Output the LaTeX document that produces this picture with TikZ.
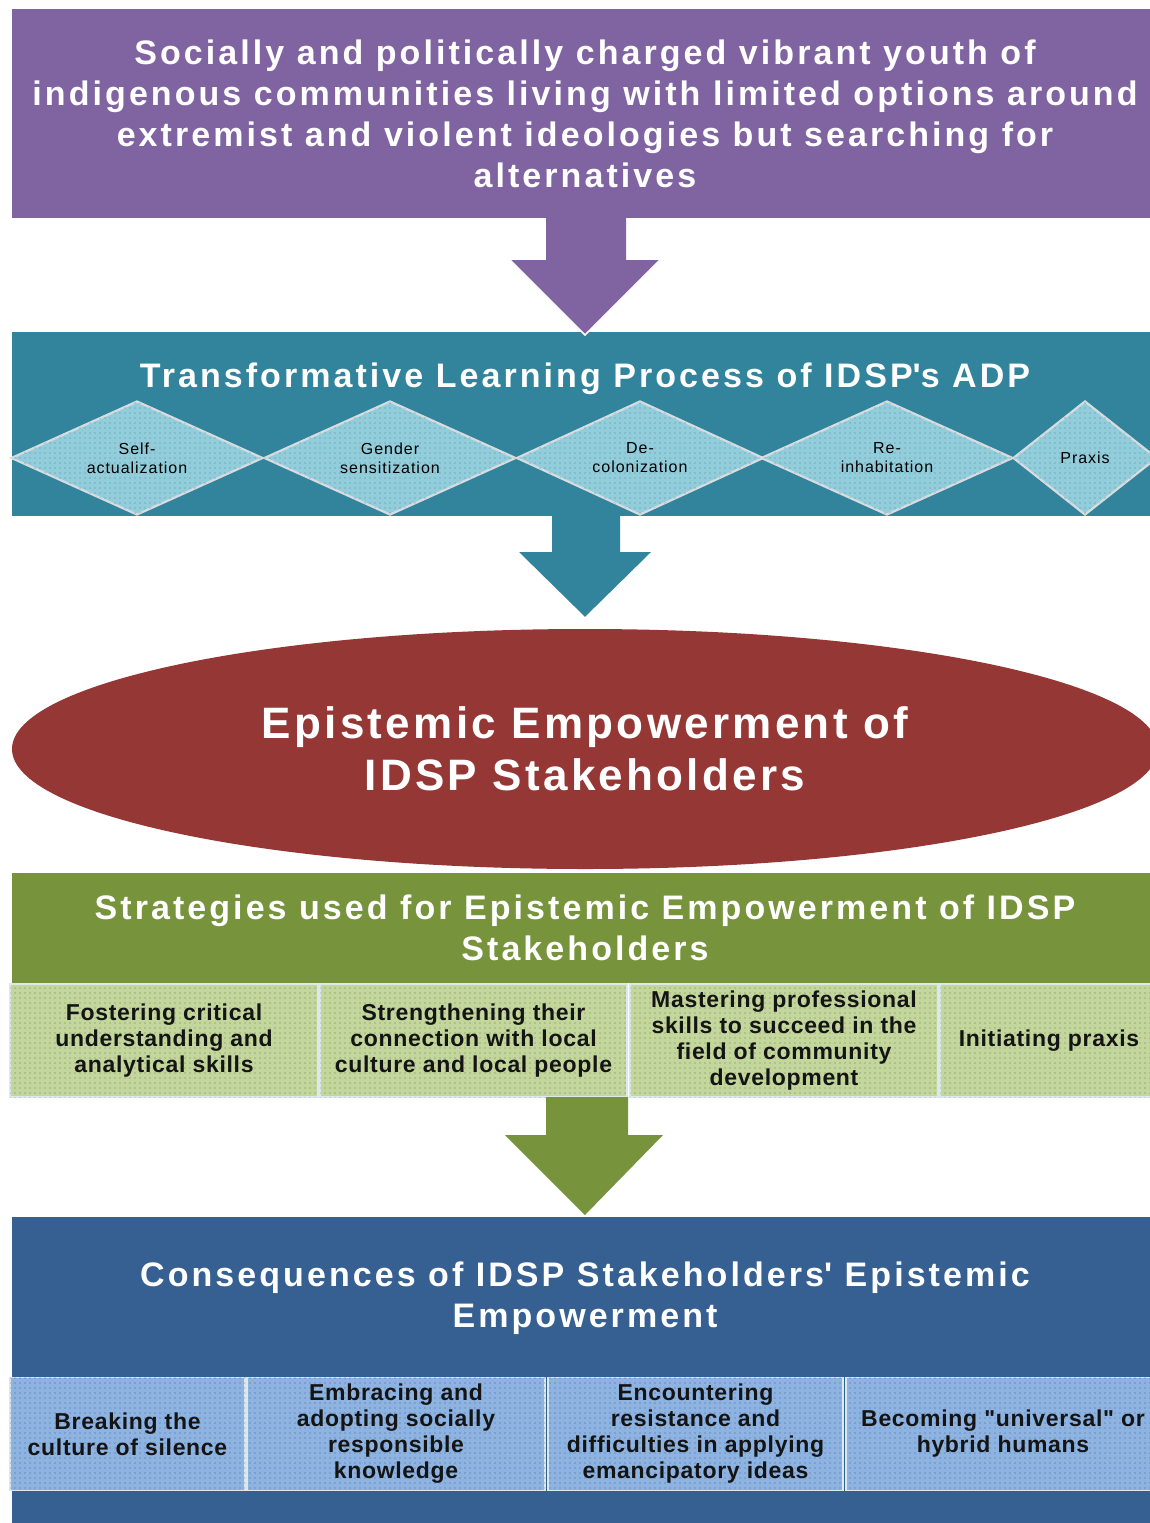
\documentclass[tikz,border=0pt]{standalone}
\usepackage{fontspec}
\setmainfont{Liberation Sans}
\newfontfamily\ttlfont[LetterSpace=9]{Liberation Sans}
\newfontfamily\ellfont[LetterSpace=7.5]{Liberation Sans}
\newfontfamily\subfont[LetterSpace=3]{Liberation Sans}
\newfontfamily\diafont[LetterSpace=6]{Liberation Sans}
\usetikzlibrary{shapes.geometric,patterns.meta,calc}
\definecolor{purp}{HTML}{8064A2}
\definecolor{tealc}{HTML}{31849B}
\definecolor{diacol}{HTML}{92CDDC}
\definecolor{dialine}{HTML}{D6DCE0}
\definecolor{redc}{HTML}{953735}
\definecolor{greenc}{HTML}{77933C}
\definecolor{lgreen}{HTML}{C3D69B}
\definecolor{bluec}{HTML}{376092}
\definecolor{lblue}{HTML}{8DB3E2}
\definecolor{subline}{HTML}{DCE9EC}
\tikzset{
  band/.style={rectangle, inner sep=0pt, outer sep=0pt, minimum width=1146, text=white, align=center,
    font=\ttlfont\bfseries\fontsize{34}{41}\selectfont},
  ttl/.style={inner sep=0pt, text=white, align=center, font=\ttlfont\bfseries\fontsize{34}{41}\selectfont},
  dia/.style={diamond, aspect=2.2, draw=dialine, line width=2.2, fill=diacol,
    postaction={pattern={Dots[distance=5pt,radius=0.6pt]}, pattern color=diacol!65!black},
    inner sep=0pt, minimum width=252, minimum height=114, align=center, text=black,
    font=\diafont\fontsize{16}{19}\selectfont},
  subbox/.style={rectangle, draw=subline, line width=1.8, inner sep=0pt, minimum height=113,
    align=center, text=black!92, font=\subfont\bfseries\fontsize{23}{26}\selectfont},
  gsub/.style={subbox, fill=lgreen, postaction={pattern={Dots[distance=5pt,radius=0.6pt]}, pattern color=lgreen!60!black}},
  bsub/.style={subbox, fill=lblue, postaction={pattern={Dots[distance=5pt,radius=0.6pt]}, pattern color=lblue!55!black}},
}
\begin{document}
\begin{tikzpicture}[x=1pt,y=-1pt]
\useasboundingbox (0,0) rectangle (1150,1523);
\fill[white] (0,0) rectangle (1150,1523);

% top purple box
\node[band, fill=purp, minimum height=209] (youth) at (585,113.5)
  {Socially and politically charged vibrant youth of\\
   indigenous communities living with limited options around\\
   extremist and violent ideologies but searching for\\
   alternatives};

% teal box
\node[band, fill=tealc, minimum height=184] (tlp) at (585,424) {};
\node[ttl] (tlpT) at (585,379) {Transformative Learning Process of IDSP\textquotesingle s ADP};
\node[dia] (d1) at (137,458) {Self-\\actualization};
\node[dia] (d2) at (390,458) {Gender\\sensitization};
\node[dia, minimum width=247] (d3) at (640,458) {De-\\colonization};
\node[dia] (d4) at (887,458) {Re-\\inhabitation};
\node[dia, minimum width=144] (d5) at (1085,458) {Praxis};

% purple arrow youth -> tlp
\coordinate (pa) at (youth.south);
\coordinate (pb) at ($(tlp.north)+(0,3)$);
\fill[purp] ($(pa)+(-39,-1)$) -- ($(pa)+(41,-1)$) -- ($(pa)+(41,42)$) -- ($(pa)+(75,42)$)
  -- (pb) -- ($(pa)+(-75,42)$) -- ($(pa)+(-39,42)$) -- cycle;
\draw[white, line width=1.5] ($(pa)+(75,42)$) -- (pb) -- ($(pa)+(-75,42)$);

% red ellipse
\node[ellipse, fill=redc, minimum width=1146, minimum height=240, inner sep=0pt, text=white, align=center,
  font=\ellfont\bfseries\fontsize{44}{52}\selectfont] (epi) at (585,749)
  {Epistemic Empowerment of\\IDSP Stakeholders};

% teal arrow tlp -> epi
\coordinate (ta) at (tlp.south);
\coordinate (tb) at ($(epi.north)+(0,-12)$);
\fill[tealc] ($(ta)+(-33,-1)$) -- ($(ta)+(35,-1)$) -- ($(ta)+(35,36)$) -- ($(ta)+(66,36)$)
  -- (tb) -- ($(ta)+(-66,36)$) -- ($(ta)+(-33,36)$) -- cycle;

% green header
\node[band, fill=greenc, minimum height=110] (strat) at (585,928)
  {Strategies used for Epistemic Empowerment of IDSP\\Stakeholders};
\node[gsub, minimum width=308] (g1) at (164,1040.5) {Fostering critical\\understanding and\\analytical skills};
\node[gsub, minimum width=307] (g2) at (473.5,1040.5) {Strengthening their\\connection with local\\culture and local people};
\node[gsub, minimum width=308] (g3) at (784,1040.5) {Mastering professional\\skills to succeed in the\\field of community\\development};
\node[gsub, minimum width=218] (g4) at (1049,1040.5) {Initiating praxis};

% blue box
\node[band, fill=bluec, minimum height=313] (cons) at (585,1373.5) {};
\node[ttl] (consT) at (585,1298) {Consequences of IDSP Stakeholders\textquotesingle\ Epistemic\\Empowerment};

% green arrow strategies -> consequences
\coordinate (ga) at (585,1097);
\coordinate (gb) at ($(cons.north)+(0,-2)$);
\fill[greenc] ($(ga)+(-39,0)$) -- ($(ga)+(43,0)$) -- ($(ga)+(43,38)$) -- ($(ga)+(78,38)$)
  -- (gb) -- ($(ga)+(-80,38)$) -- ($(ga)+(-39,38)$) -- cycle;

\node[bsub, minimum width=235] (b1) at (127.5,1434) {Breaking the\\culture of silence};
\node[bsub, minimum width=298] (b2) at (396,1434) {Embracing and\\adopting socially\\responsible\\knowledge};
\node[bsub, minimum width=295] (b3) at (695.5,1434) {Encountering\\resistance and\\difficulties in applying\\emancipatory ideas};
\node[bsub, minimum width=314] (b4) at (1003,1434) {Becoming "universal" or\\hybrid humans};
\end{tikzpicture}
\end{document}
